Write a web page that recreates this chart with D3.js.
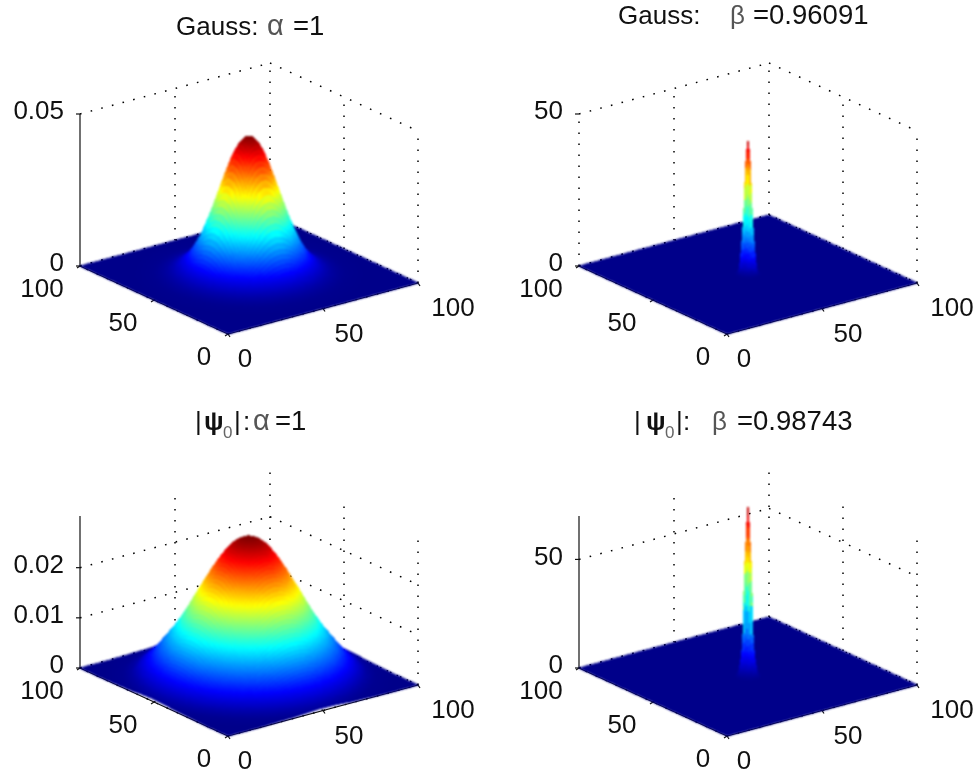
<!DOCTYPE html>
<html lang="en">
<head>
    <meta charset="UTF-8">
    <title>Gauss and psi surfaces</title>
    <script src="https://d3js.org/d3.v7.min.js"></script>
    <style>
        html, body { margin: 0; background: #fff; }
        svg { display: block; filter: blur(0.5px); }
        text { font-family: "Liberation Sans", Arial, sans-serif; fill: #111; }
        .surface { filter: blur(1px); }
    </style>
</head>
<body>
<svg width="980" height="774"></svg>
<script>
    // radial profiles: height at a distance from the centre (50,50)
    var wideRadii = [0, 2, 4, 6, 8, 10, 12, 14, 16, 18, 20, 22, 24, 26, 28, 30, 32, 34, 36, 38, 40, 44, 48, 52, 56, 60, 64, 72];
    var gaussAlpha = [.0455, .0449, .0432, .0405, .0370, .0330, .0286, .0243, .0201, .0162, .0126, .0097, .0072, .0052, .0037, .0026, .0017, .0011, .0007, .0004, .0002, .0001, 0, 0, 0, 0, 0, 0];
    var psiAlpha = [.0278, .0277, .0273, .0267, .0259, .0248, .0236, .0222, .0208, .0192, .0177, .0161, .0145, .0129, .0114, .0100, .0087, .0075, .0064, .0052, .0041, .0023, .0008, .0002, .0001, 0, 0, 0];
    var spikeRadii = [0, 0.5, 1, 1.5, 2, 2.5, 3, 3.5, 4, 5, 6, 72];
    var gaussBeta = [44, 41, 35.5, 24.7, 16, 11, 6, 2.5, 0.8, 0.1, 0, 0];
    var psiBeta = [78, 70, 58, 48, 20, 12, 7, 4, 1.5, 0.3, 0, 0];

    var floorTicks = [0, 50, 100];
    var zTicksGaussAlpha = [0, 0.05];
    var zTicksGaussBeta = [0, 50];
    var zTicksPsiAlpha = [0, 0.01, 0.02];
    var zTicksPsiBeta = [0, 50];

    var svg = d3.select("svg");

    // jet colormap
    var jet = d3.scaleLinear()
        .domain([0, .125, .375, .625, .875, 1])
        .range(["#00008a", "#0000ff", "#00ffff", "#ffff00", "#ff0000", "#800000"])
        .clamp(true);

    // grid lines of the surface: fine ones only around the spike
    var wideGrid = d3.range(0, 101, 1);
    var spikeGrid = d3.range(0, 44, 2).concat(d3.range(44, 56, 0.25), d3.range(56, 101, 2));

    var panels = [
        {dx: 0, dy: 0, radii: wideRadii, heights: gaussAlpha, grid: wideGrid, zMax: 0.05, cMax: 0.0455, zTicks: zTicksGaussAlpha, zFmt: d3.format(".2~f"), solid: true},
        {dx: 499, dy: 0, radii: spikeRadii, heights: gaussBeta, grid: spikeGrid, zMax: 50, cMax: 46, zTicks: zTicksGaussBeta, zFmt: String, solid: false},
        {dx: 0, dy: 402, radii: wideRadii, heights: psiAlpha, grid: wideGrid, zMax: 0.0303, cMax: 0.0278, zTicks: zTicksPsiAlpha, zFmt: d3.format(".2~f"), solid: true},
        {dx: 499, dy: 402, radii: spikeRadii, heights: psiBeta, grid: spikeGrid, zMax: 70, cMax: 80, zTicks: zTicksPsiBeta, zFmt: String, solid: true}
    ];

    panels.forEach(drawPanel);

    function drawPanel(p) {
        var g = svg.append("g").attr("transform", "translate(" + p.dx + "," + p.dy + ")");

        // the box is skewed, so each data axis gets its own screen scales
        var xToX = d3.scaleLinear().domain([0, 100]).range([0, 190]),
            xToY = d3.scaleLinear().domain([0, 100]).range([0, -51]),
            yToX = d3.scaleLinear().domain([0, 100]).range([0, -148]),
            yToY = d3.scaleLinear().domain([0, 100]).range([0, -68]),
            zToY = d3.scaleLinear().domain([0, p.zMax]).range([0, -152]);

        var height = d3.scaleLinear().domain(p.radii).range(p.heights);
        var color = d3.scaleLinear().domain([0, p.cMax]).range([0, 1]);

        function project(x, y, z) {
            return [228 + xToX(x) + yToX(y), 334 + xToY(x) + yToY(y) + zToY(z)];
        }
        function surface(x, y) {
            return height(Math.hypot(x - 50, y - 50));
        }
        function segment(a, b, cls) {
            return g.append("line").attr("class", cls)
                .attr("x1", a[0]).attr("y1", a[1])
                .attr("x2", b[0]).attr("y2", b[1]);
        }
        function dotted(a, b) {
            segment(a, b, "grid")
                .attr("stroke", "#000")
                .attr("stroke-width", 1.5)
                .attr("stroke-dasharray", "1.6 9.4");
        }

        // back walls
        floorTicks.forEach(function(t) {
            if (t > 0) dotted(project(t, 100, 0), project(t, 100, p.zMax));
            if (t < 100) dotted(project(100, t, 0), project(100, t, p.zMax));
            dotted(project(t, 0, 0), project(t, 100, 0));
            dotted(project(0, t, 0), project(100, t, 0));
        });
        p.zTicks.forEach(function(z) {
            dotted(project(0, 100, z), project(100, 100, z));
            dotted(project(100, 100, z), project(100, 0, z));
        });

        // axes
        var axisLine = function(a, b) {
            segment(a, b, "axis").attr("stroke", "#111").attr("stroke-width", 1.2);
        };
        axisLine(project(0, 0, 0), project(100, 0, 0));
        axisLine(project(0, 0, 0), project(0, 100, 0));
        if (p.solid) axisLine(project(0, 100, 0), project(0, 100, p.zMax));
        else dotted(project(0, 100, 0), project(0, 100, p.zMax));

        var xLabelDx = d3.scaleLinear().domain([0, 100]).range([17, 35]);
        var yLabelDx = d3.scaleLinear().domain([0, 100]).range([-24, -38]);

        floorTicks.forEach(function(t) {
            var px = project(t, 0, 0), py = project(0, t, 0);
            axisLine(px, [px[0] + 2, px[1] + 3]);
            axisLine(py, [py[0] - 3, py[1] + 2]);
            tickLabel(px[0] + xLabelDx(t), px[1] + 24, "middle", t);
            tickLabel(py[0] + yLabelDx(t), py[1] + 22, "middle", t);
        });
        p.zTicks.forEach(function(z) {
            var pz = project(0, 100, z);
            axisLine(pz, [pz[0] - 4, pz[1]]);
            tickLabel(pz[0] - 16, pz[1] - 4, "end", p.zFmt(z));
        });

        function tickLabel(x, y, anchor, txt) {
            g.append("text")
                .attr("x", x).attr("y", y)
                .attr("dy", ".36em")
                .attr("text-anchor", anchor)
                .style("font-size", "26px")
                .text(txt);
        }

        // surface cells, painted from the far corner to the near one
        var n = p.grid.length - 1;
        var idx = d3.range(n - 1, -1, -1);
        var cells = [];
        idx.forEach(function(i) {
            idx.forEach(function(j) {
                var x0 = p.grid[i], x1 = p.grid[i + 1], y0 = p.grid[j], y1 = p.grid[j + 1];
                var z = [surface(x0, y0), surface(x1, y0), surface(x1, y1), surface(x0, y1)];
                cells.push({
                    pts: [project(x0, y0, z[0]), project(x1, y0, z[1]), project(x1, y1, z[2]), project(x0, y1, z[3])],
                    c: jet(color(d3.mean(z)))
                });
            });
        });
        g.append("g").attr("class", "surface").selectAll("path")
            .data(cells)
            .enter().append("path")
            .attr("d", function(d) { return "M" + d.pts.join("L") + "Z"; })
            .attr("fill", function(d) { return d.c; })
            .attr("stroke", function(d) { return d.c; })
            .attr("stroke-width", 1)
            .attr("shape-rendering", "crispEdges");
    }

    // titles, piece by piece because of the symbol glyphs
    var sizes = {sym: "29px", beta: "26px", sub: "17px", num: "27.5px"};
    var titles = [
        {y: 35, parts: [["Gauss:", 176], ["\u03B1", 267, "sym"], ["=1", 293, "num"]]},
        {y: 24, parts: [["Gauss:", 618], ["\u03B2", 730, "beta"], ["=0.96091", 753, "num"]]},
        {y: 430, parts: [["|", 195], ["\u03C8", 204, "psi"], ["0", 223, "sub"], ["|", 234], [":", 243], ["\u03B1", 253, "sym"], ["=1", 275, "num"]]},
        {y: 430, parts: [["|", 634], ["\u03C8", 646, "psi"], ["0", 665, "sub"], ["|", 676], [":", 683], ["\u03B2", 712, "beta"], ["=0.98743", 737, "num"]]}
    ];
    titles.forEach(function(t) {
        t.parts.forEach(function(part) {
            var kind = part[2];
            svg.append("text")
                .attr("x", part[1])
                .attr("y", kind === "sub" ? t.y + 8 : t.y)
                .style("font-size", sizes[kind] || "26px")
                .style("font-weight", kind === "psi" ? "bold" : "normal")
                .style("fill", kind === "sym" || kind === "beta" ? "#555" : kind === "sub" ? "#666" : "#111")
                .text(part[0]);
        });
    });
</script>
</body>
</html>
